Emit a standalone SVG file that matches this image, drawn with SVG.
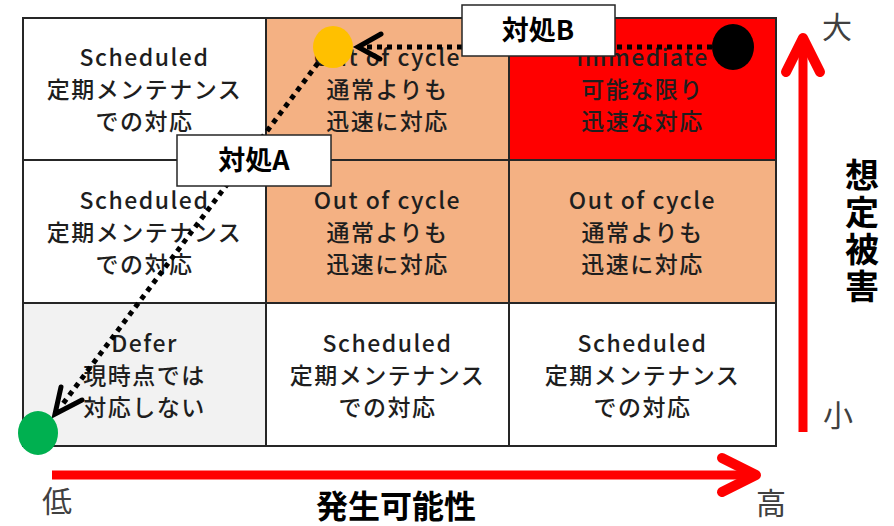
<svg xmlns="http://www.w3.org/2000/svg" width="894" height="526" viewBox="0 0 894 526">
<style>
.cell{stroke:#262626;stroke-width:2}
.ct{font-family:"Noto Sans CJK JP","Noto Sans",sans-serif;font-size:23px;font-weight:500;fill:#1e1e1e;text-anchor:middle;letter-spacing:1.5px}
.dot{fill:none;stroke:#000;stroke-width:5;stroke-dasharray:5 5}
.head{fill:none;stroke:#000;stroke-width:5;stroke-linecap:round;stroke-linejoin:miter}
.axis{fill:none;stroke:#ff0000;stroke-width:9}
.axh{fill:none;stroke:#ff0000;stroke-width:10;stroke-linecap:round;stroke-linejoin:round}
.lbl{font-family:"Noto Sans CJK JP",sans-serif;font-size:30px;fill:#404040;text-anchor:middle}
.bl{font-family:"Noto Sans CJK JP",sans-serif;font-weight:bold;fill:#000;text-anchor:middle}
.box{fill:#fff;stroke:#262626;stroke-width:1.5}
</style>
<rect width="894" height="526" fill="#fff"/>
<g id="grid">
<g id="c11"><rect class="cell" x="23" y="18" width="243" height="142" fill="#fff"/>
<text class="ct"><tspan x="144.5" y="66">Scheduled</tspan><tspan x="144.5" y="98">定期メンテナンス</tspan><tspan x="144.5" y="130">での対応</tspan></text></g>
<g id="c12"><rect class="cell" x="266" y="18" width="243" height="142" fill="#f4b183"/>
<text class="ct"><tspan x="387.5" y="66">Out of cycle</tspan><tspan x="387.5" y="98">通常よりも</tspan><tspan x="387.5" y="130">迅速に対応</tspan></text></g>
<g id="c13"><rect class="cell" x="509" y="18" width="267" height="142" fill="#ff0000"/>
<text class="ct"><tspan x="642.5" y="66">Immediate</tspan><tspan x="642.5" y="98">可能な限り</tspan><tspan x="642.5" y="130">迅速な対応</tspan></text></g>
<g id="c21"><rect class="cell" x="23" y="160" width="243" height="143" fill="#fff"/>
<text class="ct"><tspan x="144.5" y="209">Scheduled</tspan><tspan x="144.5" y="241">定期メンテナンス</tspan><tspan x="144.5" y="273">での対応</tspan></text></g>
<g id="c22"><rect class="cell" x="266" y="160" width="243" height="143" fill="#f4b183"/>
<text class="ct"><tspan x="387.5" y="209">Out of cycle</tspan><tspan x="387.5" y="241">通常よりも</tspan><tspan x="387.5" y="273">迅速に対応</tspan></text></g>
<g id="c23"><rect class="cell" x="509" y="160" width="267" height="143" fill="#f4b183"/>
<text class="ct"><tspan x="642.5" y="209">Out of cycle</tspan><tspan x="642.5" y="241">通常よりも</tspan><tspan x="642.5" y="273">迅速に対応</tspan></text></g>
<g id="c31"><rect class="cell" x="23" y="303" width="243" height="143" fill="#f2f2f2"/>
<text class="ct"><tspan x="144.5" y="352">Defer</tspan><tspan x="144.5" y="384">現時点では</tspan><tspan x="144.5" y="416">対応しない</tspan></text></g>
<g id="c32"><rect class="cell" x="266" y="303" width="243" height="143" fill="#fff"/>
<text class="ct"><tspan x="387.5" y="352">Scheduled</tspan><tspan x="387.5" y="384">定期メンテナンス</tspan><tspan x="387.5" y="416">での対応</tspan></text></g>
<g id="c33"><rect class="cell" x="509" y="303" width="267" height="143" fill="#fff"/>
<text class="ct"><tspan x="642.5" y="352">Scheduled</tspan><tspan x="642.5" y="384">定期メンテナンス</tspan><tspan x="642.5" y="416">での対応</tspan></text></g>
</g>
<g id="connectors">
<line class="dot" x1="712" y1="47" x2="362" y2="47"/>
<polyline class="head" points="381,34 358,47 380,59"/>
<line class="dot" x1="318" y1="63" x2="62" y2="405"/>
<polyline class="head" points="61,387 55,414 82,400"/>
</g>
<g id="points">
<ellipse id="pt-yellow" cx="333" cy="47" rx="20" ry="21" fill="#ffc000"/>
<ellipse id="pt-black" cx="733" cy="47" rx="21" ry="23" fill="#000"/>
<ellipse id="pt-green" cx="38" cy="433" rx="20" ry="22" fill="#00b050"/>
</g>
<g id="calloutA"><rect class="box" x="177" y="135" width="154" height="51"/>
<text class="bl" x="254" y="170" font-size="27">対処A</text></g>
<g id="calloutB"><rect class="box" x="462" y="5" width="153" height="51"/>
<text class="bl" x="538" y="40" font-size="27">対処B</text></g>
<g id="axes">
<line class="axis" x1="52" y1="475" x2="754" y2="475"/>
<polyline class="axh" points="722,458 756,475 722,492"/>
<line class="axis" x1="803" y1="432" x2="803" y2="40"/>
<polyline class="axh" points="786,72 803,38 820,72"/>
<text class="lbl" x="837" y="38">大</text>
<text class="lbl" x="838" y="426">小</text>
<text class="lbl" x="57" y="512">低</text>
<text class="lbl" x="771" y="514">高</text>
<text class="bl" x="396" y="518" font-size="32">発生可能性</text>
<text class="bl" x="862" y="232" font-size="34" style="writing-mode:vertical-rl;letter-spacing:3px">想定被害</text>
</g>
</svg>
